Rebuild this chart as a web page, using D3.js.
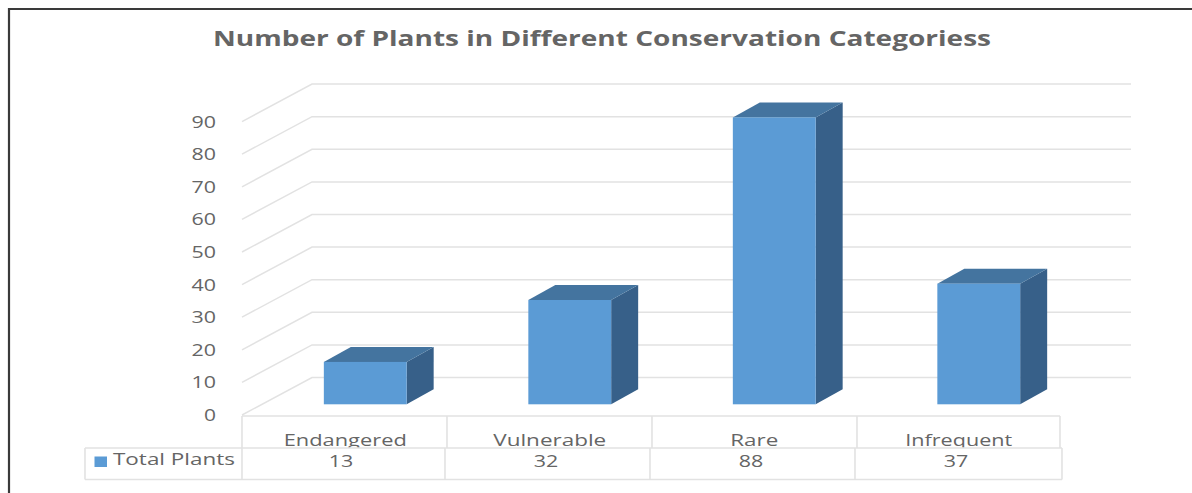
<!DOCTYPE html>
<html>
<head>
<meta charset="utf-8">
<title>Number of Plants in Different Conservation Categoriess</title>
<script src="https://cdn.jsdelivr.net/npm/d3@7/dist/d3.min.js"></script>
<style>
  html, body { margin: 0; padding: 0; background: #fff; }
  svg { display: block; }
  text { font-family: "Open Sans", sans-serif; fill: #656565; }
</style>
</head>
<body>
<svg id="chart" width="1192" height="493"></svg>
<script>
// Chart data
const chartTitle = "Number of Plants in Different Conservation Categoriess";
const categories = ["Endangered", "Vulnerable", "Rare", "Infrequent"];
const totalPlants = [13, 32, 88, 37];
const seriesName = "Total Plants";
const yTicks = [0, 10, 20, 30, 40, 50, 60, 70, 80, 90];

// Layout of the 3D frame
const wall = { left: 242, back: 312, right: 1131, rise: 37.5 };
const depth = { dx: 27, dy: 15 };
const barFloorLift = 10.7;
const table = {
  catTop: 416, rowTop: 448, rowBottom: 479.5, legendLeft: 85,
  catEdges: [242, 447, 652, 857, 1060],
  rowEdges: [242, 445, 650, 855, 1062]
};
const colors = { front: "#5b9bd5", top: "#44749f", side: "#376089", grid: "#e2e2e2", frame: "#3a3a3a" };

const svg = d3.select("#chart");

// Page border: only top and left edges are visible
svg.append("path")
  .attr("d", d3.line()([[9, 493], [9, 9], [1192, 9]]))
  .attr("fill", "none").attr("stroke", colors.frame).attr("stroke-width", 2.2);

const y = d3.scaleLinear().domain([0, 90]).range([415, 121.6]);

const xBar = d3.scaleBand().domain(categories).range([263, 1081])
  .paddingInner(0.595).paddingOuter(0.2975);
const xCat = d3.scaleBand().domain(categories).range([243, 1061]);
const xVal = d3.scaleBand().domain(categories).range([238.5, 1058.5]);

// Stretches a text to the wide proportions used throughout the chart
function fit(sel, widthOf) {
  sel.attr("textLength", widthOf).attr("lengthAdjust", "spacingAndGlyphs");
}

// Title
svg.append("text").attr("x", 602).attr("y", 46)
  .attr("text-anchor", "middle").attr("font-size", 21).attr("font-weight", 700)
  .text(chartTitle).call(fit, 778);

// Gridlines run across the floor edge and along the back wall
svg.append("g").selectAll("path").data(yTicks).join("path")
  .attr("d", d => d3.line()([
    [wall.left, y(d)],
    [wall.back, y(d) - wall.rise],
    [wall.right, y(d) - wall.rise]
  ]))
  .attr("fill", "none").attr("stroke", colors.grid).attr("stroke-width", 1.5);

// Value axis labels
const axis = svg.append("g").attr("transform", "translate(216,0)")
  .call(d3.axisLeft(y).tickValues(yTicks).tickSize(0).tickPadding(0).tickFormat(d3.format("d")));
axis.select(".domain").remove();
axis.selectAll("text")
  .attr("font-size", 15.5).attr("font-family", null).style("font-family", "'Open Sans', sans-serif")
  .attr("dy", "0.36em")
  .call(fit, d => d === 0 ? 12 : 24.5);

// Bars as three visible faces of a box
const barY = v => y(v) - barFloorLift;
const bars = svg.append("g").selectAll("g")
  .data(categories.map((c, i) => ({ c, v: totalPlants[i] })))
  .join("g");

bars.append("path").attr("fill", colors.side)
  .attr("d", d => {
    const r = xBar(d.c) + xBar.bandwidth();
    return d3.line()([[r, barY(d.v)], [r + depth.dx, barY(d.v) - depth.dy],
      [r + depth.dx, barY(0) - depth.dy], [r, barY(0)]]) + "Z";
  });
bars.append("path").attr("fill", colors.top)
  .attr("d", d => {
    const l = xBar(d.c), r = l + xBar.bandwidth();
    return d3.line()([[l, barY(d.v)], [l + depth.dx, barY(d.v) - depth.dy],
      [r + depth.dx, barY(d.v) - depth.dy], [r, barY(d.v)]]) + "Z";
  });
bars.append("rect").attr("fill", colors.front)
  .attr("x", d => xBar(d.c)).attr("width", xBar.bandwidth())
  .attr("y", d => barY(d.v)).attr("height", d => barY(0) - barY(d.v));

// Data table: category row, then the series row
const grid = svg.append("g").attr("fill", "none").attr("stroke", colors.grid).attr("stroke-width", 1.6);
const hLine = (x1, x2, yy) => grid.append("line").attr("x1", x1).attr("x2", x2).attr("y1", yy).attr("y2", yy);
const vLine = (xx, y1, y2) => grid.append("line").attr("x1", xx).attr("x2", xx).attr("y1", y1).attr("y2", y2);

hLine(table.catEdges[0], table.catEdges[4], table.catTop);
table.catEdges.forEach(e => vLine(e, table.catTop, table.rowTop));
hLine(table.legendLeft, table.rowEdges[4], table.rowTop);
hLine(table.legendLeft, table.rowEdges[4], table.rowBottom);
vLine(table.legendLeft, table.rowTop, table.rowBottom);
table.rowEdges.forEach(e => vLine(e, table.rowTop, table.rowBottom));

// Category labels sit low in their cells, so the row rule trims their descenders
svg.append("clipPath").attr("id", "catClip").append("rect")
  .attr("x", 242).attr("y", table.catTop).attr("width", 820).attr("height", table.rowTop - table.catTop - 0.8);
const catWidths = [123, 113, 48, 107];
svg.append("g").attr("clip-path", "url(#catClip)").selectAll("text").data(categories).join("text")
  .attr("x", d => xCat(d) + xCat.bandwidth() / 2).attr("y", 446)
  .attr("text-anchor", "middle").attr("font-size", 15.5)
  .text(d => d).call(fit, (d, i) => catWidths[i]);

svg.append("g").selectAll("text").data(categories).join("text")
  .attr("x", d => xVal(d) + xVal.bandwidth() / 2).attr("y", 467)
  .attr("text-anchor", "middle").attr("font-size", 15.5)
  .text((d, i) => totalPlants[i]).call(fit, 24.5);

// Legend key and series name
svg.append("rect").attr("x", 94.5).attr("y", 456.5).attr("width", 12.5).attr("height", 10.5).attr("fill", colors.front);
svg.append("text").attr("x", 113).attr("y", 465).attr("font-size", 15.5)
  .text(seriesName).call(fit, 122);
</script>
</body>
</html>
